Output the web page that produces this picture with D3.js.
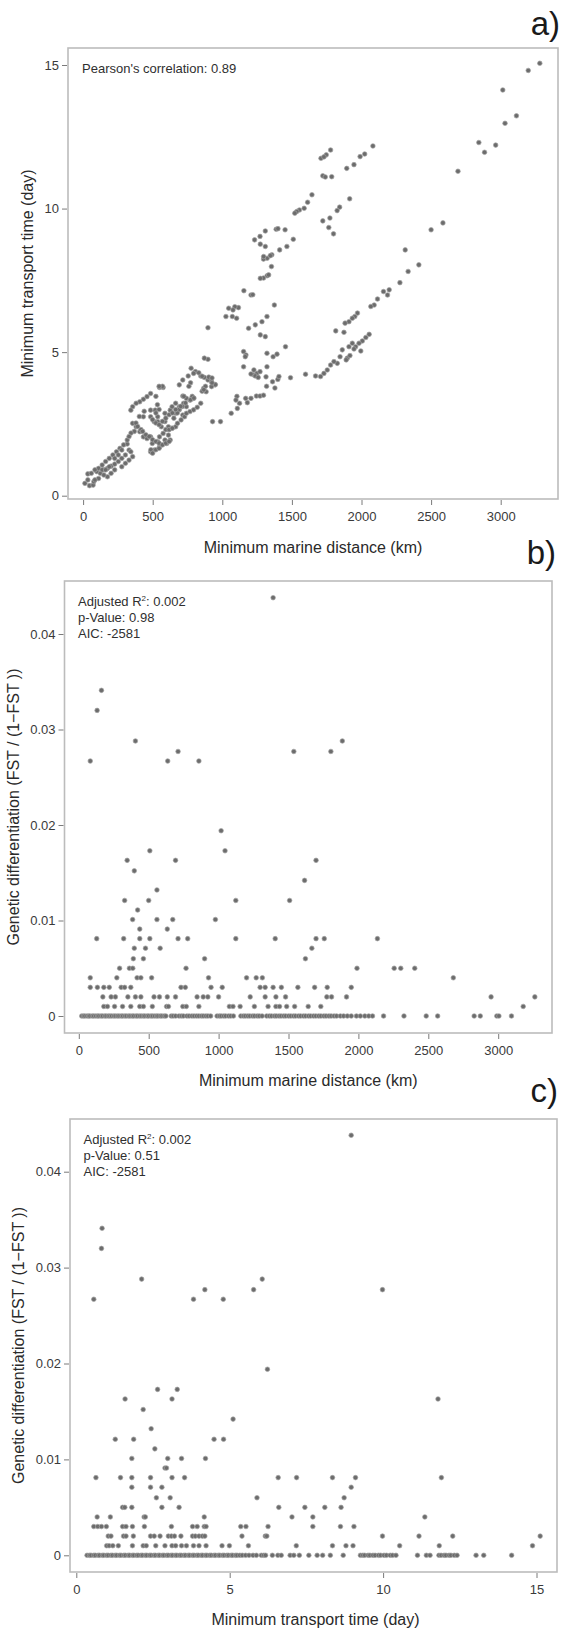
<!DOCTYPE html>
<html>
<head>
<meta charset="utf-8">
<script src="https://cdn.jsdelivr.net/npm/d3@7"></script>
<style>
  body { margin: 0; background: #fff; }
  svg { display: block; font-family: "Liberation Sans", Arial, Helvetica, sans-serif; }
</style>
</head>
<body>
<div id="chart"></div>
<script>
// ---- Data ----

// a) [minimum marine distance (km), minimum transport time (day)]
var distTime = [
  [3281,15.06],[3198,14.81],[3015,14.13],[3113,13.23],[3031,12.97],[2843,12.30],[2884,11.96],[2964,12.21],[2693,11.30],
  [2585,9.50],[2500,9.26],[2314,8.56],[2335,7.81],[2412,8.04],[2276,7.42],
  [2082,12.18],[2023,11.90],[1990,11.81],[1946,11.53],[1894,11.40],[1778,12.04],[1747,11.87],[1709,11.75],[1730,11.80],
  [1722,11.14],[1740,11.10],[1786,11.11],[1915,10.34],[1843,10.05],[1825,9.93],[1773,9.67],[1722,9.57],[1765,9.34],
  [1799,9.12],[1644,10.48],[1613,10.22],[1588,10.01],[1554,9.95],[1535,9.90],[1521,9.84],[1510,8.93],[1464,8.68],
  [1412,8.56],[1309,9.22],[1271,9.03],[1232,8.91],[1387,9.28],[1451,9.26],[1400,9.30],[1309,8.68],[1273,8.76],
  [1356,8.39],[1322,8.27],[1296,8.24],[1353,7.98],[1322,7.66],[1296,7.58],[1273,7.57],[1333,7.69],[1345,8.36],[1297,8.33],
  [2199,7.17],[2158,7.11],[2187,6.99],[2115,6.85],[2091,6.64],[2067,6.59],[1971,6.36],[1952,6.24],[1934,6.18],
  [1910,6.06],[1882,6.01],[1874,5.69],[1815,5.74],[2055,5.62],[2031,5.51],[2006,5.39],[1982,5.31],[1958,5.19],
  [1934,5.31],[1995,5.04],[1946,5.11],[1910,5.19],[1862,5.08],[1898,4.79],[1846,4.84],[1826,4.61],[1802,4.67],
  [1778,4.55],[1754,4.38],[1730,4.26],[1706,4.15],[1670,4.17],[1598,4.23],[1490,4.11],[1917,4.88],[1890,4.73],
  [1155,7.14],[1206,6.99],[1219,7.00],[1374,6.64],[1046,6.53],[1116,6.55],[1090,6.58],[1026,6.24],[1072,6.24],
  [1103,6.18],[1077,6.47],[897,5.85],[1189,5.83],[1237,5.95],[1285,6.06],[1321,6.24],[1273,5.60],[1309,5.54],
  [1454,5.19],[1153,5.02],[1170,4.90],[1165,4.84],[1153,4.49],[1321,4.96],[1365,4.84],[1393,4.93],[1321,4.49],
  [1225,4.21],[1249,4.26],[1206,4.24],[1237,4.17],[1258,4.12],[1227,4.38],[1271,4.32],[1314,4.14],[1361,3.97],
  [1399,4.05],[1407,4.15],
  [930,2.58],[987,2.58],[1064,2.87],[1108,3.04],[1124,3.22],[1105,3.46],[1180,3.24],[1168,3.39],[1206,3.39],
  [1245,3.47],[1271,3.47],[1296,3.50],[1098,3.33],[1318,3.81],[1378,3.75],
  [897,4.75],[871,4.79],[776,4.44],[807,4.32],[845,4.17],[871,4.12],[897,4.03],[923,3.97],[948,3.86],[691,3.86],
  [716,4.03],[755,4.17],[794,4.26],[866,3.74],[884,3.62],[923,3.80],[716,3.47],[742,3.39],[768,3.33],[794,3.39],
  [722,3.22],[742,3.10],[691,3.10],[716,2.81],[549,3.77],[575,3.77],[485,3.56],[459,3.45],[433,3.36],[407,3.27],
  [381,3.22],[356,3.10],[343,2.98],[485,2.98],[518,2.98],[588,2.87],[626,2.98],[665,2.87],
  [356,2.52],[381,2.40],[407,2.23],[433,2.05],[459,1.99],[485,2.05],[497,1.82],[536,1.88],[510,1.59],[485,1.53],
  [549,1.70],[588,2.58],[613,2.40],[639,2.35],[613,2.11],[588,1.94],[536,2.58],[562,2.40],[575,2.17],[549,2.05],
  [626,1.94],[601,1.82],[433,2.75],[485,2.75],[510,2.58],[536,2.75],[665,2.40],[678,2.52],[704,2.64],[729,2.75],
  [742,2.87],[768,2.93],[794,2.99],[820,3.08],[845,3.22],[639,3.10],[665,3.22],[691,2.99],[652,2.70],
  [831,4.28],[855,4.16],[903,4.13],[926,4.10],[950,3.87],[926,3.93],[879,3.81],[855,3.64],[867,3.69],[772,3.93],
  [760,3.81],[784,3.46],[772,3.34],[796,3.40],[724,3.46],[736,3.23],[713,3.11],[689,3.00],[677,2.88],[570,3.81],
  [546,3.81],[523,3.46],[534,3.17],[546,3.00],[523,2.88],[439,2.94],[404,2.76],[380,2.53],[392,2.41],[416,2.30],
  [499,2.65],[523,2.53],[546,2.47],[570,2.59],[594,2.70],[618,2.82],[641,2.88],[665,3.00],[701,3.11],[428,2.24],
  [451,2.12],[475,2.06],[499,1.95],[523,1.89],[546,1.83],[570,1.77],[594,1.83],[618,1.89],[487,1.60],[499,1.48],
  [523,1.60],[546,1.65],[594,2.30],[618,2.30],[641,2.35],[368,2.24],[344,2.18],
  [13,0.43],[46,0.35],[72,0.37],[77,0.49],[34,0.76],[59,0.78],[98,0.84],[124,0.78],[149,0.90],[175,0.95],
  [201,1.03],[227,1.10],[253,1.19],[278,1.30],[304,1.42],[330,1.59],[317,1.80],[291,1.77],[265,1.65],[240,1.53],
  [214,1.42],[188,1.30],[162,1.19],[137,1.07],[111,0.95],[85,0.90],[175,0.66],[149,0.72],[111,0.60],[227,0.90],
  [201,0.78],[278,1.01],[304,1.13],[330,1.24],[356,1.36],[343,1.53],[317,1.94],[330,2.06],[278,1.59],[253,1.42],
  [227,1.30],[188,1.01],[34,0.55],[85,0.55],[137,0.90],[162,0.90]
];

// b) & c) genetic differentiation levels, with the x positions of the points at each level
var fstLevels = [0.0438, 0.0341, 0.0320, 0.0288, 0.0277, 0.0267, 0.0194, 0.0173, 0.0163, 0.0152, 0.0142, 0.0132,
  0.0121, 0.0111, 0.0101, 0.0091, 0.0081, 0.0071, 0.0060, 0.0050, 0.0040, 0.0030, 0.0020, 0.0010, 0];

// b) minimum marine distance (km)
var distAtLevel = [
  [1390], [162], [131], [405, 1885], [710, 1538, 1803], [82, 636, 859], [1018], [508, 1046], [346, 692, 1697],
  [397], [1615], [559], [328, 500, 1123, 1508], [421], [385, 559, 672, 977], [436, 633],
  [128, 321, 436, 508, 710, 779, 1123, 1405, 1697, 1756, 2136],
  [397, 477, 582, 1667],
  [390, 462, 900, 1621],
  [292, 362, 386, 767, 1990, 2256, 2303, 2403],
  [82, 272, 417, 444, 521, 928, 1200, 1269, 1313, 2679],
  [82, 133, 179, 218, 303, 328, 372, 731, 762, 946, 1026, 1297, 1333, 1390, 1449, 1567, 1687, 1777, 1949],
  [172, 231, 262, 351, 405, 444, 538, 577, 633, 692, 846, 890, 923, 1000, 1226, 1333, 1410, 1479, 1774, 1808, 1915, 2949, 3262],
  [179, 205, 256, 313, 372, 436, 462, 526, 628, 641, 744, 769, 859, 1077, 1103, 1154, 1256, 1354, 1410, 1436, 1487, 1544, 1641, 1731, 3179],
  [21, 33, 44, 59, 71, 80, 96, 107, 121, 134, 144, 159, 170, 186, 196, 211, 223, 235, 250, 261, 276, 288, 303, 314,
   329, 340, 356, 367, 382, 393, 409, 420, 435, 447, 462, 473, 489, 500, 516, 527, 542, 556, 567, 583, 595, 611, 623,
   661, 675, 693, 717, 734, 749, 773, 789, 809, 825, 843, 859, 877, 891, 909, 924, 943, 989, 1006, 1019, 1037, 1051,
   1071, 1087, 1106, 1159, 1177, 1191, 1209, 1224, 1243, 1257, 1276, 1291, 1311, 1344, 1363, 1379, 1399, 1413, 1432,
   1447, 1466, 1481, 1501, 1517, 1536, 1551, 1571, 1587, 1607, 1623, 1643, 1659, 1679, 1696, 1716, 1732, 1753, 1769,
   1789, 1805, 1826, 1844, 1871, 1894, 1921, 1949, 1986, 2014, 2046, 2074, 2101, 2180, 2326, 2485, 2567, 2828, 2872,
   2990, 3005, 3095]
];

// c) minimum transport time (day)
var timeAtLevel = [
  [8.96], [0.84], [0.82], [2.13, 6.06], [4.19, 5.78, 9.98], [0.57, 3.82, 4.79], [6.23], [2.65, 3.29], [1.59, 3.12, 11.79],
  [2.18], [5.11], [2.44], [1.27, 1.87, 4.49, 4.80], [2.56], [1.81, 2.98, 3.43, 4.21], [2.89, 2.94],
  [0.64, 1.44, 1.81, 2.42, 3.12, 3.53, 6.58, 7.18, 8.35, 9.10, 11.90],
  [1.81, 2.42, 2.79, 8.96],
  [2.61, 3.06, 5.89, 8.73],
  [1.51, 1.58, 1.81, 2.79, 3.35, 6.60, 7.45, 8.10, 8.63],
  [0.68, 1.11, 2.21, 2.25, 4.17, 7.03, 7.71, 11.36],
  [0.57, 0.70, 0.82, 0.98, 1.51, 1.62, 1.83, 2.22, 3.10, 3.79, 3.94, 4.17, 4.23, 5.36, 5.53, 6.25, 7.71, 8.61, 9.05],
  [1.04, 1.13, 1.54, 1.62, 1.86, 2.42, 2.54, 2.73, 3.00, 3.10, 3.20, 3.41, 3.79, 3.88, 4.00, 4.11, 4.19, 5.40, 6.16, 6.21, 9.98, 11.17, 12.27, 15.12],
  [0.99, 1.07, 1.19, 1.37, 1.83, 2.18, 2.28, 2.59, 2.89, 3.12, 3.24, 3.43, 3.59, 3.82, 4.00, 4.23, 4.75, 4.99, 5.61, 7.17, 8.35, 8.79, 9.02, 10.54, 11.83, 14.87],
  [0.35, 0.43, 0.48, 0.57, 0.62, 0.71, 0.76, 0.85, 0.90, 0.99, 1.04, 1.13, 1.18, 1.27, 1.32, 1.41, 1.46, 1.55, 1.60,
   1.69, 1.74, 1.83, 1.88, 1.97, 2.02, 2.11, 2.16, 2.25, 2.30, 2.39, 2.44, 2.53, 2.58, 2.67, 2.72, 2.81, 2.86, 2.95,
   3.00, 3.09, 3.14, 3.23, 3.28, 3.37, 3.42, 3.51, 3.56, 3.65, 3.70, 3.79, 3.84, 3.93, 3.98, 4.07, 4.12, 4.21, 4.26,
   4.35, 4.40, 4.49, 4.54, 4.63, 4.68, 4.77, 4.82, 4.91, 4.96, 5.05, 5.10, 5.19, 5.24, 5.33, 5.41, 5.52, 5.63, 5.76,
   5.87, 6.03, 6.11, 6.17, 6.39, 6.57, 6.68, 6.97, 7.09, 7.27, 7.58, 7.85, 8.03, 8.28, 8.70, 9.26, 9.34, 9.40, 9.51,
   9.57, 9.67, 9.74, 9.85, 9.92, 10.03, 10.11, 10.23, 10.31, 10.42, 11.12, 11.41, 11.53, 11.82, 11.89, 11.99, 12.05,
   12.15, 12.21, 12.32, 12.41, 13.03, 13.28, 14.19]
];

var distTicks = [0, 500, 1000, 1500, 2000, 2500, 3000];
var timeTicks = [0, 5, 10, 15];
var fstTicks = [0, 0.01, 0.02, 0.03, 0.04];

// ---- Drawing ----
var width = 562,
    height = 1631;

var svg = d3.select("#chart")
  .append("svg")
  .attr("width", width)
  .attr("height", height);

function levelPoints(levels, xs) {
  var pts = [];
  levels.forEach(function(v, i) {
    xs[i].forEach(function(k) { pts.push([k, v]); });
  });
  return pts;
}

var fstFormat = function(d) { return d === 0 ? "0" : d3.format(".2f")(d); };

function drawPanel(p) {
  var g = svg.append("g");

  var x = d3.scaleLinear().domain(p.xRef).range(p.xPix);
  var y = d3.scaleLinear().domain(p.yRef).range(p.yPix);

  // points
  g.append("g")
    .selectAll("circle")
    .data(p.points)
    .enter()
    .append("circle")
    .attr("cx", function(d) { return x(d[0]); })
    .attr("cy", function(d) { return y(d[1]); })
    .attr("r", 2.3)
    .attr("fill", "#6c6c6c")
    .attr("stroke", "#a4a4a4")
    .attr("stroke-width", 0.7);

  // frame
  g.append("rect")
    .attr("x", p.box[0])
    .attr("y", p.box[2])
    .attr("width", p.box[1] - p.box[0])
    .attr("height", p.box[3] - p.box[2])
    .attr("fill", "none")
    .attr("stroke", "#bcbcbc")
    .attr("stroke-width", 1.6);

  var xa = g.append("g")
    .attr("transform", "translate(0," + (p.box[3] + 1) + ")")
    .call(d3.axisBottom(x).tickValues(p.xTicks).tickSize(5).tickPadding(7).tickFormat(p.xFormat || d3.format("d")));
  var ya = g.append("g")
    .attr("transform", "translate(" + (p.box[0] - 1) + ",0)")
    .call(d3.axisLeft(y).tickValues(p.yTicks).tickSize(5).tickPadding(3).tickFormat(p.yFormat || d3.format("d")));

  [xa, ya].forEach(function(a) {
    a.select(".domain").remove();
    a.selectAll(".tick line").attr("stroke", "#7a7a7a").attr("stroke-width", 1);
    a.selectAll(".tick text")
      .attr("fill", "#3a3a3a")
      .style("font-size", "13px")
      .style("font-family", "Liberation Sans, Arial, sans-serif");
  });

  // axis titles
  g.append("text")
    .attr("x", (p.box[0] + p.box[1]) / 2 + (p.xTitleShift || 0))
    .attr("y", p.xTitleY)
    .attr("text-anchor", "middle")
    .attr("fill", "#2a2a2a")
    .style("font-size", "16px")
    .text(p.xTitle);

  g.append("text")
    .attr("transform", "translate(" + p.yTitleX + "," + (p.box[2] + p.box[3]) / 2 + ") rotate(-90)")
    .attr("text-anchor", "middle")
    .attr("dominant-baseline", "central")
    .attr("fill", "#2a2a2a")
    .style("font-size", "16px")
    .text(p.yTitle);

  // annotation lines
  p.notes.forEach(function(n, i) {
    var t = g.append("text")
      .attr("x", p.noteX)
      .attr("y", p.noteY + i * 16)
      .attr("fill", "#2f2f2f")
      .style("font-size", "13px");
    if (n.sup) {
      t.append("tspan").text(n.before);
      t.append("tspan").attr("dy", -5).style("font-size", "8px").text(n.sup);
      t.append("tspan").attr("dy", 5).text(n.after);
    } else {
      t.text(n.text);
    }
  });

  // panel letter
  g.append("text")
    .attr("x", p.letterX)
    .attr("y", p.letterY)
    .attr("text-anchor", "end")
    .attr("fill", "#1a1a1a")
    .style("font-size", "33px")
    .text(p.letter);
}

drawPanel({
  points: distTime,
  xRef: [0, 3000], xPix: [83.1, 500.7],
  yRef: [0, 15], yPix: [495.7, 65],
  box: [68, 558, 48, 499],
  xTicks: distTicks, yTicks: timeTicks,
  xTitle: "Minimum marine distance (km)", xTitleY: 553,
  yTitle: "Minimum transport time (day)", yTitleX: 27,
  notes: [{ text: "Pearson's correlation: 0.89" }],
  noteX: 82, noteY: 73,
  letter: "a)", letterX: 560, letterY: 35
});

drawPanel({
  points: levelPoints(fstLevels, distAtLevel),
  xRef: [0, 3000], xPix: [78.8, 498.2],
  yRef: [0, 0.04], yPix: [1016, 634],
  box: [64.5, 552, 581, 1033],
  xTicks: distTicks, yTicks: fstTicks, yFormat: fstFormat,
  xTitle: "Minimum marine distance (km)", xTitleY: 1086,
  yTitle: "Genetic differentiation (FST / (1\u2212FST ))", yTitleX: 13.5,
  notes: [{ before: "Adjusted R", sup: "2", after: ": 0.002" }, { text: "p-Value: 0.98" }, { text: "AIC: -2581" }],
  noteX: 78, noteY: 605.5,
  letter: "b)", letterX: 556, letterY: 564
});

drawPanel({
  points: levelPoints(fstLevels, timeAtLevel),
  xRef: [0, 15], xPix: [76.3, 536.5],
  yRef: [0, 0.04], yPix: [1555.3, 1171.7],
  box: [70, 557, 1119, 1572],
  xTicks: timeTicks, yTicks: fstTicks, yFormat: fstFormat,
  xTitle: "Minimum transport time (day)", xTitleY: 1625, xTitleShift: 2,
  yTitle: "Genetic differentiation (FST / (1\u2212FST ))", yTitleX: 18,
  notes: [{ before: "Adjusted R", sup: "2", after: ": 0.002" }, { text: "p-Value: 0.51" }, { text: "AIC: -2581" }],
  noteX: 83.5, noteY: 1143.5,
  letter: "c)", letterX: 558, letterY: 1102
});
</script>
</body>
</html>
